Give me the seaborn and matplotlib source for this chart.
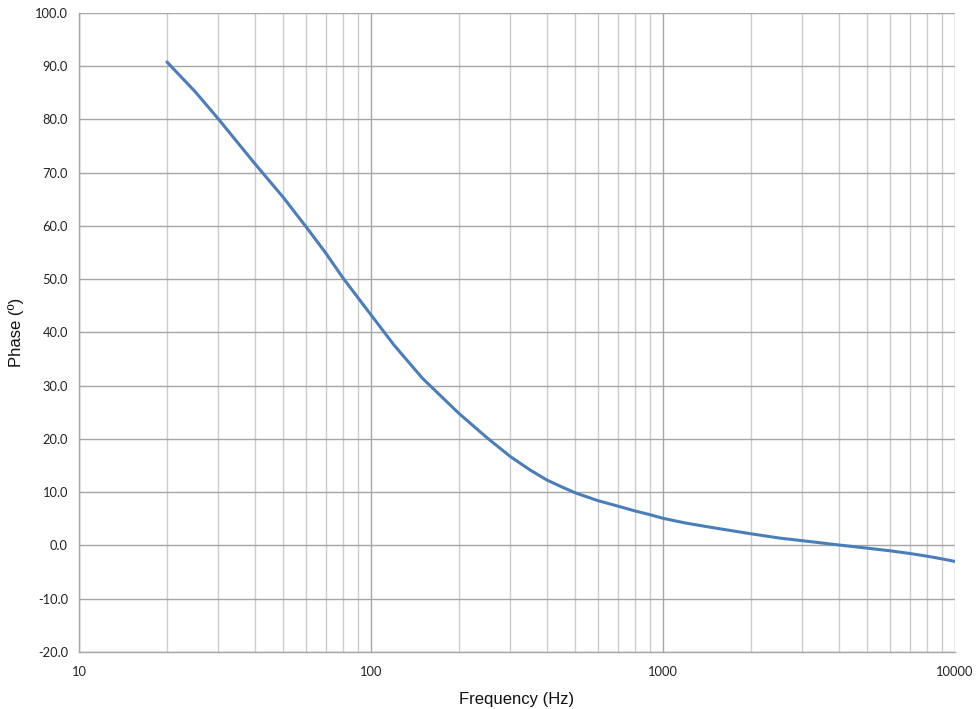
import numpy as np
import pandas as pd
import matplotlib
matplotlib.use("Agg")
import matplotlib.pyplot as plt
import seaborn as sns
from matplotlib.ticker import FixedLocator, FormatStrFormatter, LogLocator, NullFormatter

sns.set_style("white")
plt.rcParams['font.family'] = ['Lato', 'DejaVu Sans']

freq = [20, 25, 30, 35, 40, 50, 60, 70, 80, 90, 100, 120, 150,
        200, 250, 300, 350, 400, 450, 500, 600, 700, 800, 900, 1000, 1200, 1500,
        2000, 2500, 3000, 4000, 5000, 6000, 7000, 8000, 9000, 10000]
phase = [90.8, 85.2, 80.1, 75.6, 71.7, 65.4, 59.8, 54.9, 50.3, 46.6, 43.3, 37.6, 31.4,
         24.8, 20.2, 16.7, 14.2, 12.3, 11.0, 9.9, 8.4, 7.4, 6.5, 5.8, 5.1, 4.2, 3.3,
         2.2, 1.4, 0.9, 0.1, -0.5, -1.0, -1.5, -2.0, -2.5, -3.0]
df = pd.DataFrame({"Frequency": freq, "Phase": phase})

fig = plt.figure(figsize=(9.76, 7.09), dpi=100)
ax = fig.add_axes([0.081, 0.0804, 0.8975, 0.9013])
sns.lineplot(data=df, x="Frequency", y="Phase", ax=ax, color="#4a7ebb", linewidth=2.2)

ax.set_xscale("log")
ax.set_xlim(10, 10000)
ax.set_ylim(-20, 100)
ax.xaxis.set_major_locator(FixedLocator([10, 100, 1000, 10000]))
ax.xaxis.set_major_formatter(FormatStrFormatter("%d"))
ax.xaxis.set_minor_locator(LogLocator(base=10, subs=np.arange(2, 10)))
ax.xaxis.set_minor_formatter(NullFormatter())
ax.yaxis.set_major_locator(FixedLocator(np.arange(-20, 101, 10)))
ax.yaxis.set_major_formatter(FormatStrFormatter("%.1f"))

ax.grid(which="major", axis="both", color="#a6a6a6", linewidth=1.0)
ax.grid(which="minor", axis="x", color="#cccccc", linewidth=1.0)
ax.set_axisbelow(True)
for s in ["top", "right"]:
    ax.spines[s].set_visible(False)
for s in ["left", "bottom"]:
    ax.spines[s].set_color("#a6a6a6")
    ax.spines[s].set_linewidth(1.0)
ax.tick_params(which="both", length=0, labelsize=9.3, labelcolor="#222222")
ax.tick_params(axis="x", pad=10)
ax.tick_params(axis="y", pad=8)

lab = dict(fontsize=12, family=["Liberation Sans", "DejaVu Sans"], color="#111111")
ax.set_xlabel("Frequency (Hz)", labelpad=10, **lab)
ax.set_ylabel("Phase (º)", labelpad=8, **lab)

fig.savefig("out.png", dpi=100)
